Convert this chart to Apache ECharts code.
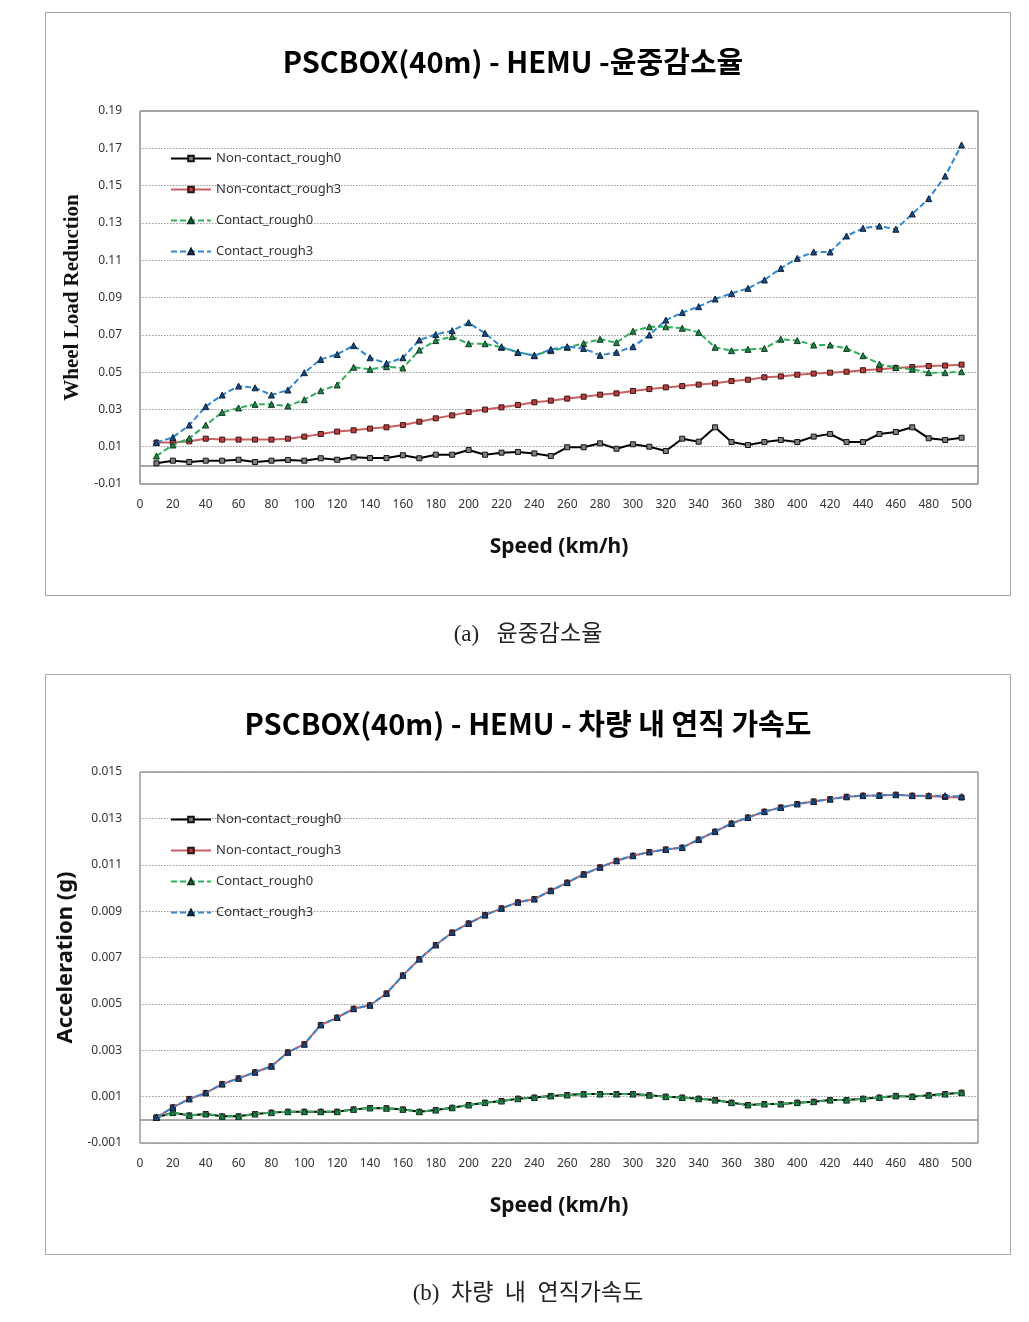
<!DOCTYPE html>
<html><head><meta charset="utf-8">
<script src="https://cdn.jsdelivr.net/npm/echarts@6/dist/echarts.min.js"></script>
<style>html,body{margin:0;padding:0;background:#fff}#c{width:1029px;height:1322px}</style>
</head><body><div id="c"></div>
<script>
// ---------- DATA ----------
const speeds = [10,20,30,40,50,60,70,80,90,100,110,120,130,140,150,160,170,180,190,200,
  210,220,230,240,250,260,270,280,290,300,310,320,330,340,350,360,370,380,390,400,
  410,420,430,440,450,460,470,480,490,500];
const seriesNames = ['Non-contact_rough0','Non-contact_rough3','Contact_rough0','Contact_rough3'];
const xTicks = [0,20,40,60,80,100,120,140,160,180,200,220,240,260,280,300,320,340,360,380,400,420,440,460,480,500];

// (a) wheel load reduction
const wlrNonContactRough0 = [0.0011,0.0025,0.0018,0.0025,0.0025,0.0030,0.0018,0.0025,0.0029,0.0025,
  0.0038,0.0030,0.0043,0.0039,0.0039,0.0054,0.0038,0.0057,0.0057,0.0082,
  0.0057,0.0068,0.0072,0.0064,0.0050,0.0097,0.0097,0.0118,0.0089,0.0113,
  0.0100,0.0077,0.0143,0.0127,0.0204,0.0125,0.0109,0.0125,0.0136,0.0125,
  0.0154,0.0168,0.0125,0.0125,0.0168,0.0179,0.0204,0.0145,0.0136,0.0148];
const wlrNonContactRough3 = [0.0122,0.0122,0.0129,0.0143,0.0138,0.0138,0.0138,0.0138,0.0143,0.0154,
  0.0168,0.0181,0.0188,0.0197,0.0204,0.0216,0.0234,0.0252,0.0268,0.0286,
  0.0299,0.0311,0.0324,0.0338,0.0347,0.0358,0.0368,0.0379,0.0386,0.0399,
  0.0409,0.0418,0.0425,0.0433,0.0440,0.0452,0.0459,0.0472,0.0477,0.0486,
  0.0492,0.0497,0.0502,0.0510,0.0515,0.0522,0.0527,0.0533,0.0535,0.0540];
const wlrContactRough0 = [0.0050,0.0109,0.0145,0.0216,0.0284,0.0308,0.0327,0.0327,0.0318,0.0352,
  0.0400,0.0431,0.0526,0.0515,0.0529,0.0522,0.0618,0.0669,0.0690,0.0652,
  0.0652,0.0633,0.0606,0.0590,0.0615,0.0633,0.0654,0.0676,0.0658,0.0719,
  0.0743,0.0743,0.0735,0.0713,0.0633,0.0615,0.0622,0.0627,0.0676,0.0669,
  0.0645,0.0645,0.0627,0.0588,0.0543,0.0524,0.0515,0.0497,0.0497,0.0502];
const wlrContactRough3 = [0.0122,0.0150,0.0216,0.0315,0.0377,0.0425,0.0416,0.0377,0.0404,0.0497,
  0.0568,0.0595,0.0642,0.0577,0.0547,0.0577,0.0672,0.0702,0.0722,0.0765,
  0.0708,0.0636,0.0606,0.0588,0.0622,0.0636,0.0627,0.0590,0.0606,0.0636,
  0.0699,0.0779,0.0819,0.0851,0.0892,0.0922,0.0949,0.0994,0.1056,0.1110,
  0.1144,0.1144,0.1230,0.1271,0.1283,0.1266,0.1348,0.1430,0.1551,0.1718];

// (b) vertical acceleration in car
const accNonContactRough0 = [0.00010,0.00031,0.00019,0.00025,0.00015,0.00015,0.00025,0.00031,0.00035,0.00035,
  0.00035,0.00035,0.00045,0.00051,0.00050,0.00045,0.00035,0.00042,0.00052,0.00064,
  0.00074,0.00081,0.00091,0.00096,0.00103,0.00107,0.00111,0.00111,0.00111,0.00111,
  0.00106,0.00100,0.00096,0.00091,0.00085,0.00074,0.00064,0.00068,0.00068,0.00074,
  0.00078,0.00085,0.00085,0.00091,0.00096,0.00103,0.00100,0.00106,0.00111,0.00117];
const accNonContactRough3 = [0.00010,0.00054,0.00090,0.00116,0.00154,0.00179,0.00205,0.00231,0.00291,0.00326,
  0.00409,0.00441,0.00479,0.00494,0.00545,0.00623,0.00693,0.00754,0.00808,0.00847,
  0.00883,0.00912,0.00938,0.00952,0.00988,0.01023,0.01059,0.01089,0.01117,0.01139,
  0.01155,0.01166,0.01174,0.01209,0.01243,0.01278,0.01304,0.01329,0.01347,0.01362,
  0.01373,0.01383,0.01393,0.01398,0.01399,0.01402,0.01398,0.01396,0.01392,0.01390];
const accContactRough0 = [0.00010,0.00031,0.00019,0.00025,0.00015,0.00015,0.00025,0.00031,0.00035,0.00035,
  0.00035,0.00035,0.00045,0.00051,0.00050,0.00045,0.00035,0.00042,0.00052,0.00064,
  0.00074,0.00081,0.00091,0.00096,0.00103,0.00107,0.00111,0.00111,0.00111,0.00111,
  0.00106,0.00100,0.00096,0.00091,0.00085,0.00074,0.00064,0.00068,0.00068,0.00074,
  0.00078,0.00085,0.00085,0.00091,0.00096,0.00103,0.00100,0.00106,0.00111,0.00117];
const accContactRough3 = [0.00010,0.00054,0.00090,0.00116,0.00154,0.00179,0.00205,0.00231,0.00291,0.00326,
  0.00409,0.00441,0.00479,0.00494,0.00545,0.00623,0.00693,0.00754,0.00808,0.00847,
  0.00883,0.00912,0.00938,0.00952,0.00988,0.01023,0.01059,0.01089,0.01117,0.01139,
  0.01155,0.01166,0.01174,0.01209,0.01243,0.01278,0.01304,0.01329,0.01347,0.01362,
  0.01373,0.01383,0.01393,0.01398,0.01399,0.01402,0.01398,0.01398,0.01398,0.01394];

const wlrSeries = [wlrNonContactRough0, wlrNonContactRough3, wlrContactRough0, wlrContactRough3];
const accSeries = [accNonContactRough0, accNonContactRough3, accContactRough0, accContactRough3];

// ---------- STYLE ----------
const SANS = "'Noto Sans', 'Noto Sans CJK KR', sans-serif";
const styles = [
  {line:'#000000', type:'solid', symbol:'rect', size:5, fill:'#808080', border:'#111', width:2},
  {line:'#cc5f62', type:'solid', symbol:'rect', size:5, fill:'#b5403f', border:'#3b1212', width:2},
  {line:'#2fae5c', type:[6,3], symbol:'triangle', size:6, fill:'#23804a', border:'#0d3a1e', width:2},
  {line:'#2f87cf', type:[6,3], symbol:'triangle', size:6, fill:'#1c4a80', border:'#0b1d3a', width:2}
];

function buildSeries(arrs, gi) {
  return arrs.map((vals, k) => {
    const st = styles[k];
    const s = {
      name: seriesNames[k], type: 'line', xAxisIndex: gi, yAxisIndex: gi,
      data: speeds.map((sp, i) => [sp, vals[i]]),
      symbol: st.symbol, symbolSize: st.size, showAllSymbol: true,
      lineStyle: {color: st.line, width: st.width, type: st.type},
      itemStyle: {color: st.fill, borderColor: st.border, borderWidth: 1},
      emphasis: {disabled: true}, z: 3 + k
    };
    if (k === 0) {
      s.markLine = {silent: true, symbol: ['none','none'], label: {show: false},
        lineStyle: {color: '#8c8c8c', type: 'solid', width: 1.5},
        data: [{yAxis: 0}], z: 1};
    }
    return s;
  });
}

function xAxisDef(gi) {
  return {
    type: 'value', gridIndex: gi, min: 0, max: 510, interval: 20,
    axisLine: {show: false}, axisTick: {show: false}, splitLine: {show: false},
    axisLabel: {margin: 15, fontSize: 12, color: '#333', fontFamily: SANS,
      formatter: v => xTicks.indexOf(Math.round(v)) >= 0 ? String(Math.round(v)) : ''},
    name: 'Speed (km/h)', nameLocation: 'middle', nameGap: 53,
    nameTextStyle: {fontSize: 21, fontWeight: 'bold', color: '#111', fontFamily: SANS}
  };
}

function legendDef(top) {
  return {data: seriesNames, orient: 'vertical', left: 170, top: top, itemWidth: 40, itemHeight: 7, itemGap: 18,
    textStyle: {fontSize: 13, color: '#333', fontFamily: SANS}, selectedMode: false, padding: 0};
}

const chart = echarts.init(document.getElementById('c'), null, {renderer: 'canvas'});
chart.setOption({
  animation: false,
  backgroundColor: '#fff',
  grid: [
    {left: 140, top: 111, width: 838, height: 373, show: true, borderColor: '#555', borderWidth: 1, backgroundColor: 'transparent'},
    {left: 140, top: 772, width: 838, height: 371, show: true, borderColor: '#666', borderWidth: 1, backgroundColor: 'transparent'}
  ],
  xAxis: [xAxisDef(0), xAxisDef(1)],
  yAxis: [
    {type: 'value', gridIndex: 0, min: -0.01, max: 0.19, interval: 0.01,
     axisLine: {show: false}, axisTick: {show: false},
     axisLabel: {margin: 18, fontSize: 12, color: '#333', fontFamily: SANS,
       formatter: v => { const n = Math.round(v * 100); return (Math.abs(n) % 2 === 1) ? (n / 100).toFixed(2) : ''; }},
     splitLine: {show: true, lineStyle: {color: ['#9a9a9a', 'rgba(0,0,0,0)'], type: [1.5, 1.5], width: 1}},
     name: 'Wheel Load Reduction', nameLocation: 'middle', nameGap: 56,
     nameTextStyle: {fontSize: 21, fontWeight: 'bold', color: '#111', fontFamily: "'Liberation Serif', 'DejaVu Serif', serif"}},
    {type: 'value', gridIndex: 1, min: -0.001, max: 0.015, interval: 0.001,
     axisLine: {show: false}, axisTick: {show: false},
     axisLabel: {margin: 18, fontSize: 12, color: '#333', fontFamily: SANS,
       formatter: v => { const n = Math.round(v * 1000); return (Math.abs(n) % 2 === 1) ? (n / 1000).toFixed(3) : ''; }},
     splitLine: {show: true, lineStyle: {color: ['#9a9a9a', 'rgba(0,0,0,0)'], type: [1.5, 1.5], width: 1}},
     name: 'Acceleration (g)', nameLocation: 'middle', nameGap: 58,
     nameTextStyle: {fontSize: 22, fontWeight: 'bold', color: '#111', fontFamily: SANS}}
  ],
  legend: [legendDef(152), legendDef(813)],
  graphic: [
    {type: 'rect', shape: {x: 45.5, y: 12.5, width: 965, height: 583}, style: {fill: 'none', stroke: '#a6a6a6', lineWidth: 1}, z: -10},
    {type: 'rect', shape: {x: 45.5, y: 674.5, width: 965, height: 580}, style: {fill: 'none', stroke: '#a6a6a6', lineWidth: 1}, z: -10},
    {type: 'text', x: 513, y: 62, style: {text: 'PSCBOX(40m) - HEMU -윤중감소율', font: "bold 29px 'Noto Sans CJK KR', 'Noto Sans', sans-serif", fill: '#000', textAlign: 'center', textVerticalAlign: 'middle'}},
    {type: 'text', x: 528, y: 724, style: {text: 'PSCBOX(40m) - HEMU - 차량 내 연직 가속도', font: "bold 29px 'Noto Sans CJK KR', 'Noto Sans', sans-serif", fill: '#000', textAlign: 'center', textVerticalAlign: 'middle'}},
    {type: 'text', x: 528, y: 635, style: {text: '(a)   윤중감소율', font: "23px 'Liberation Serif', 'Noto Sans CJK KR', serif", fill: '#222', textAlign: 'center', textVerticalAlign: 'middle'}},
    {type: 'text', x: 528, y: 1294, style: {text: '(b)  차량  내  연직가속도', font: "23px 'Liberation Serif', 'Noto Sans CJK KR', serif", fill: '#222', textAlign: 'center', textVerticalAlign: 'middle'}}
  ],
  series: buildSeries(wlrSeries, 0).concat(buildSeries(accSeries, 1))
});
</script>
</body></html>
